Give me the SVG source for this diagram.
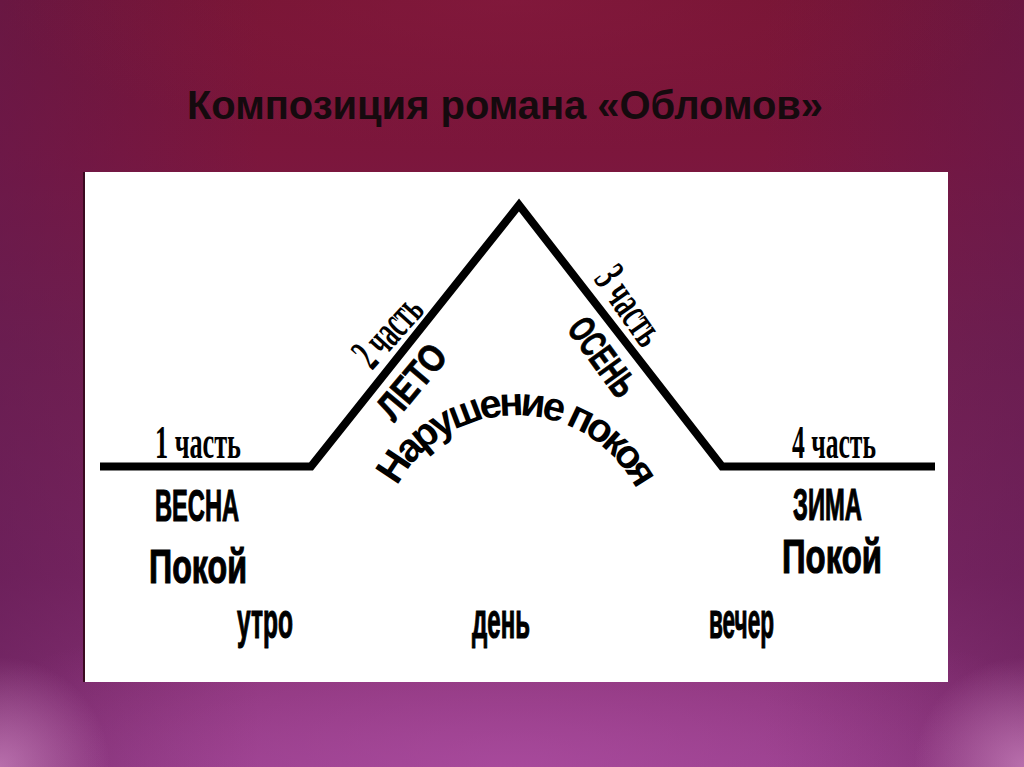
<svg xmlns="http://www.w3.org/2000/svg" width="1024" height="767" viewBox="0 0 1024 767">
  <defs>
    <linearGradient id="bgV" x1="0" y1="0" x2="0" y2="1">
      <stop offset="0" stop-color="#741432"/>
      <stop offset="0.2" stop-color="#7c163c"/>
      <stop offset="0.45" stop-color="#76204e"/>
      <stop offset="0.75" stop-color="#7c2764"/>
      <stop offset="1" stop-color="#943c88"/>
    </linearGradient>
    <linearGradient id="sideL" x1="0" y1="0" x2="1" y2="0">
      <stop offset="0" stop-color="#5e1a52" stop-opacity="0.5"/>
      <stop offset="1" stop-color="#5e1a52" stop-opacity="0"/>
    </linearGradient>
    <linearGradient id="sideR" x1="1" y1="0" x2="0" y2="0">
      <stop offset="0" stop-color="#5e1a52" stop-opacity="0.45"/>
      <stop offset="1" stop-color="#5e1a52" stop-opacity="0"/>
    </linearGradient>
    <radialGradient id="bottomGlow" cx="0.5" cy="1" r="0.6">
      <stop offset="0" stop-color="#b452a8" stop-opacity="0.6"/>
      <stop offset="1" stop-color="#b452a8" stop-opacity="0"/>
    </radialGradient>
    <radialGradient id="cornerGlow" cx="0.5" cy="0.5" r="0.5">
      <stop offset="0" stop-color="#d08ac4" stop-opacity="0.7"/>
      <stop offset="1" stop-color="#d08ac4" stop-opacity="0"/>
    </radialGradient>
    <radialGradient id="topGlow" cx="0.5" cy="0" r="0.5">
      <stop offset="0" stop-color="#8e1c44" stop-opacity="0.5"/>
      <stop offset="1" stop-color="#8e1c44" stop-opacity="0"/>
    </radialGradient>
    <style>
      .title { font-family: "Liberation Sans", Arial, sans-serif; font-weight: bold; font-size: 40px; fill: #150a0e; }
      .part { font-family: "Liberation Serif", "Times New Roman", serif; font-weight: bold; font-size: 47px; fill: #000; }
      .sans { font-family: "Liberation Sans", Arial, sans-serif; font-weight: bold; fill: #000; stroke: #000; stroke-width: 1.2; }
      .cap { font-size: 45px; }
      .big { font-size: 49px; }
      .time { font-size: 50px; }
      .slope { font-size: 38px; stroke-width: 0.8; }
      .arc { font-family: "Liberation Sans", Arial, sans-serif; font-weight: bold; font-size: 40px; fill: #000; letter-spacing: -4px; }
      .line { fill: none; stroke: #000; stroke-width: 8; stroke-linejoin: miter; stroke-miterlimit: 10; }
    </style>
    <path id="arcPath" d="M383.1,526.6 A135,135 0 0 1 648.9,526.6"/>
  </defs>

  <!-- background -->
  <rect x="0" y="0" width="1024" height="767" fill="url(#bgV)"/>
  <rect x="0" y="0" width="260" height="767" fill="url(#sideL)"/>
  <rect x="764" y="0" width="260" height="767" fill="url(#sideR)"/>
  <rect x="0" y="0" width="1024" height="300" fill="url(#topGlow)"/>
  <rect x="0" y="480" width="1024" height="287" fill="url(#bottomGlow)"/>
  <ellipse cx="0" cy="767" rx="110" ry="110" fill="url(#cornerGlow)"/>
  <ellipse cx="1024" cy="767" rx="110" ry="110" fill="url(#cornerGlow)"/>

  <g id="title">
    <text class="title" x="187" y="119" textLength="636" lengthAdjust="spacingAndGlyphs">Композиция романа «Обломов»</text>
  </g>

  <g id="panel">
    <rect x="84" y="172" width="864" height="510" fill="#ffffff"/>
    <line x1="84" y1="172" x2="84" y2="682" stroke="#3a0a20" stroke-width="2"/>
  </g>

  <g id="connectors">
    <polyline class="line" points="100,466.5 311,466.5 519,205 722,466.5 935,466.5"/>
  </g>

  <g id="part1">
    <text class="part" x="155" y="458" textLength="86" lengthAdjust="spacingAndGlyphs">1 часть</text>
    <text class="sans cap" x="155" y="521" textLength="84" lengthAdjust="spacingAndGlyphs">ВЕСНА</text>
    <text class="sans big" x="149" y="583" textLength="98" lengthAdjust="spacingAndGlyphs">Покой</text>
  </g>

  <g id="part2">
    <text class="part" font-size="42" transform="translate(372,371) rotate(-48)" textLength="80" lengthAdjust="spacingAndGlyphs">2 часть</text>
    <text class="sans slope" transform="translate(394,423) rotate(-50)" textLength="86" lengthAdjust="spacingAndGlyphs">ЛЕТО</text>
  </g>

  <g id="part3">
    <text class="part" font-size="42" transform="translate(593,279) rotate(55)" textLength="86" lengthAdjust="spacingAndGlyphs">3 часть</text>
    <text class="sans slope" transform="translate(566,329) rotate(54)" textLength="88" lengthAdjust="spacingAndGlyphs">ОСЕНЬ</text>
  </g>

  <g id="disturbance">
    <text class="arc"><textPath href="#arcPath" startOffset="50%" text-anchor="middle">Нарушение покоя</textPath></text>
  </g>

  <g id="part4">
    <text class="part" x="792" y="458" textLength="84" lengthAdjust="spacingAndGlyphs">4 часть</text>
    <text class="sans cap" x="793" y="520" textLength="69" lengthAdjust="spacingAndGlyphs">ЗИМА</text>
    <text class="sans big" x="782" y="573" textLength="100" lengthAdjust="spacingAndGlyphs">Покой</text>
  </g>

  <g id="times">
    <text class="sans time" x="237" y="638" textLength="56" lengthAdjust="spacingAndGlyphs">утро</text>
    <text class="sans time" x="472" y="638" textLength="58" lengthAdjust="spacingAndGlyphs">день</text>
    <text class="sans time" x="709" y="638" textLength="65" lengthAdjust="spacingAndGlyphs">вечер</text>
  </g>
</svg>
